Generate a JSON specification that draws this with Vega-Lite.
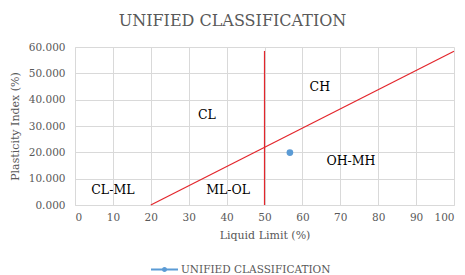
{
  "$schema": "https://vega.github.io/schema/vega-lite/v6.json",
  "autosize": "none",
  "width": 379,
  "height": 158,
  "padding": {"left": 75, "top": 47, "right": 11, "bottom": 70},
  "background": "white",
  "title": {
    "text": "UNIFIED CLASSIFICATION",
    "anchor": "middle",
    "dx": -32,
    "offset": 13,
    "font": "DejaVu Serif",
    "fontSize": 16,
    "fontWeight": "normal",
    "color": "#595959"
  },
  "config": {
    "view": {"stroke": null},
    "axis": {
      "labelFont": "DejaVu Serif",
      "titleFont": "DejaVu Serif",
      "labelColor": "#595959",
      "titleColor": "#595959",
      "labelFontSize": 10.5,
      "titleFontSize": 11,
      "titleFontWeight": "normal",
      "gridColor": "#d9d9d9",
      "domainColor": "#d9d9d9",
      "ticks": false,
      "labelOverlap": false
    }
  },
  "datasets": {
    "lines": [
      {"seg": "A-line", "LL": 20, "PI": 0},
      {"seg": "A-line", "LL": 100, "PI": 58.4},
      {"seg": "LL50", "LL": 50, "PI": 0},
      {"seg": "LL50", "LL": 50, "PI": 58.5}
    ],
    "points": [
      {"series": "UNIFIED CLASSIFICATION", "LL": 56.7, "PI": 19.9}
    ],
    "labels": [
      {"label": "CL-ML", "LL": 10, "PI": 5.6},
      {"label": "ML-OL", "LL": 40.4, "PI": 5.6},
      {"label": "CL", "LL": 34.8, "PI": 34.2},
      {"label": "CH", "LL": 64.6, "PI": 44.8},
      {"label": "OH-MH", "LL": 72.8, "PI": 16.7}
    ]
  },
  "encoding": {
    "x": {
      "field": "LL", "type": "quantitative",
      "scale": {"domain": [0, 100], "nice": false},
      "axis": {"values": [0, 10, 20, 30, 40, 50, 60, 70, 80, 90, 100], "title": "Liquid Limit  (%)", "labelPadding": 7, "titlePadding": 7}
    },
    "y": {
      "field": "PI", "type": "quantitative",
      "scale": {"domain": [0, 60], "nice": false},
      "axis": {"values": [0, 10, 20, 30, 40, 50, 60], "format": ".3f", "title": "Plasticity Index (%)", "labelPadding": 10, "titlePadding": 8}
    }
  },
  "layer": [
    {
      "data": {"name": "lines"},
      "mark": {"type": "line", "color": "#e3262c", "strokeWidth": 1.2},
      "encoding": {
        "detail": {"field": "seg"}
      }
    },
    {
      "data": {"name": "points"},
      "mark": {"type": "point", "filled": true, "size": 45, "opacity": 1},
      "encoding": {
        "color": {
          "field": "series", "type": "nominal",
          "scale": {"domain": ["UNIFIED CLASSIFICATION"], "range": ["#5b9bd5"]},
          "legend": {
            "title": null,
            "orient": "none",
            "legendX": 75,
            "legendY": 208,
            "symbolType": "M-1,0H1M-0.12,0A0.12,0.12 0 1,1 0.12,0A0.12,0.12 0 1,1 -0.12,0Z",
            "symbolSize": 729,
            "symbolStrokeWidth": 2,
            "symbolStrokeColor": "#5b9bd5",
            "symbolFillColor": "#5b9bd5",
            "labelFont": "DejaVu Serif",
            "labelFontSize": 10.5,
            "labelColor": "#595959",
            "labelOffset": 2
          }
        }
      }
    },
    {
      "data": {"name": "labels"},
      "mark": {"type": "text", "font": "DejaVu Serif", "fontSize": 12.5, "color": "#000000"},
      "encoding": {
        "text": {"field": "label"}
      }
    }
  ]
}
